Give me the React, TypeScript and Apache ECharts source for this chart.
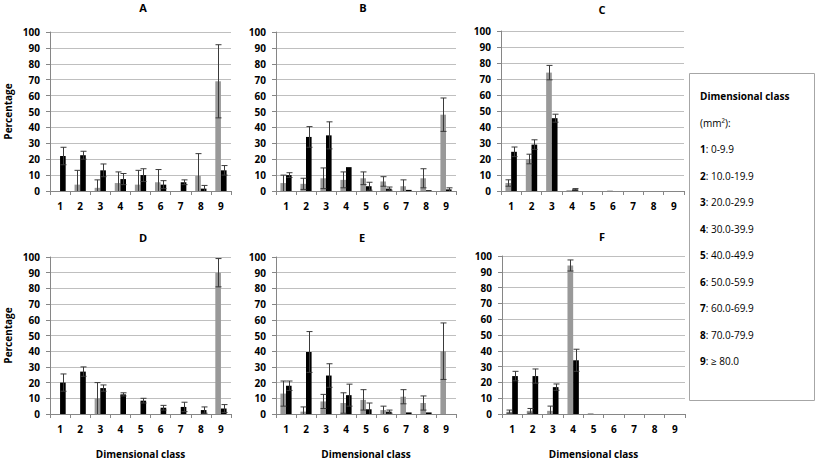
import React, { useEffect, useRef } from "react";
import * as echarts from "echarts";

const classes = ["1", "2", "3", "4", "5", "6", "7", "8", "9"];
const panelNames = ["A", "B", "C", "D", "E", "F"];

const grayA = [0, 4, 2, 5, 4, 5.5, 0, 9.5, 69];
const grayErrA = [0, 9, 5, 7, 9, 8, 0, 14, 23];
const blackA = [22, 22.5, 13, 7.5, 10, 4, 5.5, 1.5, 13];
const blackErrA = [5.5, 2.5, 4, 3.5, 4, 2.5, 1.5, 2, 3];

const grayB = [5, 4.5, 8, 7, 8, 6, 3, 8, 48];
const grayErrB = [5, 3.5, 6.5, 5, 4, 3, 4, 6, 10.5];
const blackB = [10, 34, 35, 15, 3, 1.5, 0.7, 0.5, 1];
const blackErrB = [1.5, 6.5, 8.5, 0, 2.5, 1, 0, 0, 1];

const grayC = [5, 20, 74, 0.5, 0, 0.3, 0, 0, 0];
const grayErrC = [2, 3, 4.5, 0, 0, 0, 0, 0, 0];
const blackC = [24.5, 29, 45.5, 1, 0, 0, 0, 0, 0];
const blackErrC = [3, 3, 2.5, 0.5, 0, 0, 0, 0, 0];

const grayD = [0, 0, 10, 0, 0, 0, 0, 0, 90];
const grayErrD = [0, 0, 10, 0, 0, 0, 0, 0, 9];
const blackD = [20, 27, 16.5, 12.5, 8.5, 4, 4.5, 2.5, 3.5];
const blackErrD = [5.5, 3, 2, 1, 1.5, 1.5, 3, 2, 2.5];

const grayE = [13, 1.5, 8, 7, 9, 2.5, 11, 7, 40];
const grayErrE = [8, 3, 4.5, 6.5, 6.5, 2.5, 4.5, 4.5, 18];
const blackE = [18, 39.5, 24.5, 12, 3, 1.5, 1, 1, 0];
const blackErrE = [3, 13, 7.5, 7, 4, 1, 0, 0, 0];

const grayF = [1.5, 2, 2, 94, 0.5, 0, 0, 0, 0];
const grayErrF = [1, 1.5, 3, 3.5, 0, 0, 0, 0, 0];
const blackF = [24, 24, 17, 34, 0, 0, 0, 0, 0];
const blackErrF = [3, 4.5, 2, 7, 0, 0, 0, 0, 0];

const grayValues = [grayA, grayB, grayC, grayD, grayE, grayF];
const grayErrors = [grayErrA, grayErrB, grayErrC, grayErrD, grayErrE, grayErrF];
const blackValues = [blackA, blackB, blackC, blackD, blackE, blackF];
const blackErrors = [blackErrA, blackErrB, blackErrC, blackErrD, blackErrE, blackErrF];

const yTicks = { min: 0, max: 100, interval: 10 };
const legendTitle = "Dimensional class";
const legendUnit = "(mm²):";
const legendRanges = ["0-9.9", "10.0-19.9", "20.0-29.9", "30.0-39.9", "40.0-49.9", "50.0-59.9", "60.0-69.9", "70.0-79.9", "≥ 80.0"];

const FONT = "'Open Sans', sans-serif";
const GRIDS = [
  { left: 50, top: 32, width: 181, height: 159 },
  { left: 276, top: 32, width: 180, height: 159 },
  { left: 501, top: 31, width: 183, height: 160 },
  { left: 50, top: 257, width: 181, height: 159 },
  { left: 276, top: 257, width: 180, height: 159 },
  { left: 502, top: 256, width: 183, height: 160 },
];
const TITLE_POS = [
  { x: 143, y: 2 },
  { x: 363, y: 2 },
  { x: 602, y: 4 },
  { x: 143, y: 232 },
  { x: 362, y: 232 },
  { x: 602, y: 231 },
];
const BAR_FRAC = 0.28;

function buildOption() {
  const grid: any[] = [];
  const xAxis: any[] = [];
  const yAxis: any[] = [];
  const series: any[] = [];
  const title: any[] = [];
  for (let p = 0; p < 6; p++) {
    const g = GRIDS[p];
    grid.push({ left: g.left, top: g.top, width: g.width, height: g.height, containLabel: false });
    title.push({
      text: panelNames[p],
      left: TITLE_POS[p].x,
      top: TITLE_POS[p].y,
      padding: 0,
      textAlign: "center",
      textStyle: { fontFamily: FONT, fontWeight: "bold", fontSize: 11, color: "#000" },
    });
    xAxis.push({
      type: "category",
      gridIndex: p,
      data: classes,
      boundaryGap: true,
      axisLine: { lineStyle: { color: "#868686" } },
      axisTick: { show: true, length: 4, lineStyle: { color: "#868686" } },
      axisLabel: { fontFamily: FONT, fontWeight: "bold", fontSize: 10, color: "#000", margin: 10, interval: 0 },
      splitLine: { show: false },
      name: p >= 3 ? "Dimensional class" : "",
      nameLocation: "middle",
      nameGap: 35,
      nameTextStyle: { fontFamily: FONT, fontWeight: "bold", fontSize: 10, color: "#000" },
    });
    yAxis.push({
      type: "value",
      gridIndex: p,
      min: yTicks.min,
      max: yTicks.max,
      interval: yTicks.interval,
      axisLine: { show: true, lineStyle: { color: "#868686" } },
      axisTick: { show: true, length: 4, lineStyle: { color: "#868686" } },
      axisLabel: { fontFamily: FONT, fontWeight: "bold", fontSize: 10, color: "#000", margin: 10 },
      splitLine: { show: true, lineStyle: { color: "#bfbfbf", width: 1 } },
      name: p === 0 || p === 3 ? "Percentage" : "",
      nameLocation: "middle",
      nameRotate: 90,
      nameGap: 37,
      nameTextStyle: { fontFamily: FONT, fontWeight: "bold", fontSize: 10, color: "#000" },
    });
    series.push({
      type: "bar",
      xAxisIndex: p,
      yAxisIndex: p,
      data: grayValues[p],
      barWidth: BAR_FRAC * 100 + "%",
      barGap: "0%",
      itemStyle: { color: "#999999" },
    });
    series.push({
      type: "bar",
      xAxisIndex: p,
      yAxisIndex: p,
      data: blackValues[p],
      barWidth: BAR_FRAC * 100 + "%",
      barGap: "0%",
      itemStyle: { color: "#000000" },
    });
    const errData: any[] = [];
    for (let i = 0; i < classes.length; i++) {
      errData.push([i, grayValues[p][i], grayErrors[p][i], 0]);
      errData.push([i, blackValues[p][i], blackErrors[p][i], 1]);
    }
    series.push({
      type: "custom",
      xAxisIndex: p,
      yAxisIndex: p,
      data: errData,
      z: 10,
      renderItem: (params: any, api: any) => {
        const xi = api.value(0);
        const v = api.value(1);
        const e = api.value(2);
        const side = api.value(3);
        if (!e) return null;
        const c = api.coord([xi, v]);
        const cw = api.size([1, 0])[0];
        const bw = cw * BAR_FRAC;
        const cx = Math.round(c[0] + (side ? bw / 2 : -bw / 2)) + 0.5;
        const topY = api.coord([xi, v + e])[1];
        const lowV = v - e;
        const lowY = api.coord([xi, Math.max(0, lowV)])[1];
        const st = { stroke: "#3a3a3a", lineWidth: 1 };
        const children: any[] = [
          { type: "line", shape: { x1: cx, y1: topY, x2: cx, y2: lowY }, style: st },
          { type: "line", shape: { x1: cx - 3, y1: topY, x2: cx + 3, y2: topY }, style: st },
        ];
        if (lowV > 0) {
          children.push({ type: "line", shape: { x1: cx - 3, y1: lowY, x2: cx + 3, y2: lowY }, style: st });
        }
        return { type: "group", children };
      },
    });
  }

  const legendChildren: any[] = [
    {
      type: "rect",
      shape: { x: 689.5, y: 73.5, width: 125, height: 327 },
      style: { fill: "#fff", stroke: "#a6a6a6", lineWidth: 1 },
    },
    {
      type: "text",
      x: 700,
      y: 96,
      style: { text: legendTitle, font: "bold 10px " + FONT, fill: "#000", verticalAlign: "middle" },
    },
    {
      type: "text",
      x: 700,
      y: 122.5,
      style: { text: legendUnit, font: "10px " + FONT, fill: "#000", verticalAlign: "middle" },
    },
  ];
  legendRanges.forEach((r, i) => {
    legendChildren.push({
      type: "text",
      x: 700,
      y: 149 + i * 26.5,
      style: {
        text: "{b|" + classes[i] + "}: " + r,
        font: "10px " + FONT,
        fill: "#000",
        verticalAlign: "middle",
        rich: { b: { fontWeight: "bold", fontFamily: FONT, fontSize: 10, fill: "#000" } },
      },
    });
  });

  return {
    animation: false,
    backgroundColor: "#fff",
    title,
    grid,
    xAxis,
    yAxis,
    series,
    graphic: [{ type: "group", children: legendChildren }],
  };
}

export default function App() {
  const ref = useRef<HTMLDivElement>(null);
  useEffect(() => {
    if (!ref.current) return;
    const chart = echarts.init(ref.current, null, { renderer: "svg" });
    chart.setOption(buildOption() as any);
    return () => chart.dispose();
  }, []);
  return (
    <div
      ref={ref}
      style={{ position: "absolute", left: 0, top: 0, width: 817, height: 460 }}
    />
  );
}
